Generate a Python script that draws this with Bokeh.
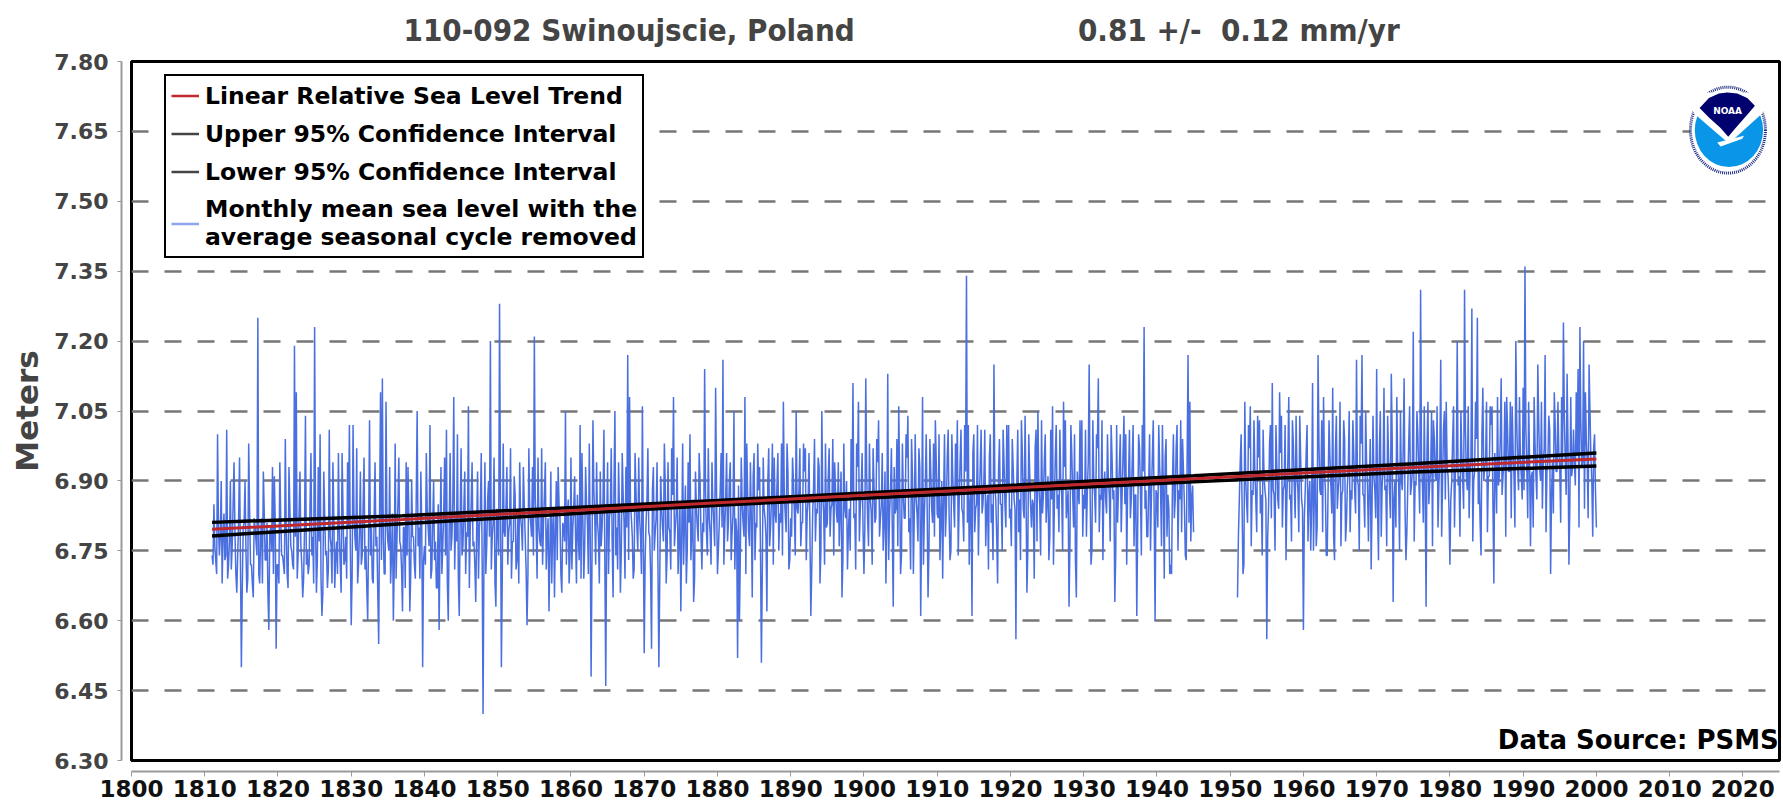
from bokeh.plotting import figure
from bokeh.models import (LinearAxis, FixedTicker, NumeralTickFormatter, Label, Legend, LegendItem,
                          Range1d, Grid, Title)
from bokeh.embed import file_html
from bokeh.resources import INLINE

# values in centimetres; lvl_* are read at whole quarters of a year
lvl_1811_1819 = [674,685,673,700, 674,690,678,673, 701,672,690,676, 694,670,674,695, 650,680,690,666,
                 698,672,668,682, 677,725,668,682, 692,673,681,658, 680,693,691,654]
lvl_1820s = [672,694,674,672, 699,670,693,676, 672,719,709,674, 692,672,669,704, 675,672,696,678,
             723,666,693,700, 661,692,674,667, 701,676,694,667, 677,696,672,696, 672,678,694,702]
lvl_1830s = [659,702,678,697, 672,692,674,695, 676,660,703,680, 668,694,678,655, 709,712,670,707,
             677,693,674,660, 698,678,695,676, 662,680,694,693, 662,690,678,669, 705,680,692,650]
lvl_1840s = [676,696,680,702, 671,690,677,667, 658,693,676,695, 701,660,696,678, 708,682,700,661,
             697,676,692,679, 706,680,694,677, 664,692,680,696, 640,694,676,690, 720,678,695,663]
lvl_1850s = [680,728,650,698, 678,693,679,697, 677,691,671,682, 694,680,693,678, 659,697,681,693,
             721,680,695,677, 697,681,694,678, 662,692,680,665, 690,693,682,666, 680,705,682,668]
lvl_1860s = [695,680,691,668, 678,702,696,669, 693,681,698,648, 703,682,694,678, 692,680,701,646,
             694,682,697,665, 705,680,694,666, 696,681,693,717, 708,682,669,696, 680,695,678,706]
lvl_1870s = [653,681,697,678, 654,693,679,694, 650,691,680,698, 668,694,679,697, 708,680,695,677,
             662,698,681,668, 694,700,679,664, 692,680,696,679, 681,714,679,697, 679,694,681,710]
lvl_1880s = [670,681,696,716, 680,696,681,694, 679,705,682,652, 660,695,681,708, 698,679,694,665,
             696,681,698,693, 651,695,682,662, 697,680,698,695, 681,696,683,698, 707,683,698,671]
lvl_1890s = [682,695,683,705, 683,697,681,698, 697,683,696,661, 683,699,684,695, 668,705,683,698,
             681,697,684,699, 694,683,694,684, 665,698,682,671, 684,699,711,683, 698,707,684,696]
lvl_1900s = [670,712,682,698, 683,697,681,699, 703,682,696,681, 668,713,683,697, 663,683,699,706,
             670,698,682,700, 704,682,699,670, 700,683,697,661, 708,683,700,665, 699,684,698,703]
lvl_1910s = [683,700,682,669, 700,684,701,673, 700,685,698,703, 685,701,683,702, 734,702,685,661,
             700,684,702,686, 701,685,701,684, 671,700,685,715, 686,668,699,685, 701,685,702,702]
lvl_1920s = [684,699,686,656, 701,686,703,684, 704,666,700,685, 686,669,701,705, 685,703,687,700,
             686,673,701,706, 685,702,687,701, 687,707,703,685, 663,702,687,700, 665,687,703,703]
lvl_1930s = [687,701,688,715, 672,703,687,700, 712,687,703,688, 686,700,687,702, 686,664,702,688,
             700,687,704,700, 688,701,686,702, 687,661,700,688, 702,723,688,678, 700,687,703,660]
lvl_1940_1945 = [687,702,688,702, 669,699,687,670, 670,700,686,702, 688,703,699,685, 673,717,707,686, 679]
lvl_1951_1959 = [665,686,700,670, 707,685,702,706, 688,703,686,704, 703,687,701,688, 656,685,702,711,
                 687,702,686,709, 704,688,702,687, 708,687,703,689, 704,688,704,686]
lvl_1960s = [658,688,702,687, 675,711,688,676, 717,688,703,708, 688,674,703,689, 710,673,704,688,
             707,687,703,677, 689,705,688,703, 688,716,689,704, 717,687,705,689, 689,671,704,688]
lvl_1970s = [714,673,705,689, 710,689,704,688, 713,664,690,708, 690,705,688,712, 673,689,706,689,
             722,690,705,691, 731,689,706,663, 707,690,705,703, 691,706,689,716, 690,705,707,691]
lvl_1980s = [672,690,706,692, 720,691,705,690, 731,691,706,692, 727,690,707,725, 692,674,710,693,
             707,691,706,706, 668,692,708,691, 712,691,707,708, 692,707,706,691, 720,693,708,691]
lvl_1990_2000 = [710,736,693,707, 676,692,708,691, 715,693,707,694, 717,692,704,670, 694,709,692,707,
                 693,708,724,694, 713,672,708,693, 694,709,714,723, 693,720,709,694, 715,695,678,700, 680]

# readings half-way between those quarters
mid_1811_1819 = [672,676,670,680, 678,668,683,674, 669,677,671,685, 679,666,682,673, 667,681,675,669,
                 684,672,665,680, 674,670,678,668, 683,673,666,679, 675,670,681,672]
mid_1820s = [668,682,674,670, 679,667,684,675, 671,678,669,683, 676,665,680,672, 670,685,674,668,
             681,673,677,669, 666,683,675,671, 678,668,682,674, 670,679,666,684, 673,669,680,676]
mid_1830s = [670,683,675,668, 679,672,685,671, 667,680,674,669, 682,676,666,684, 673,678,670,681,
             675,668,683,672, 669,685,677,671, 680,667,674,682, 670,678,672,686, 676,669,681,673]
mid_1840s = [672,684,676,669, 681,673,667,685, 678,670,683,674, 668,680,675,686, 671,677,669,682,
             674,684,670,678, 667,685,676,672, 680,669,683,673, 675,670,686,678, 671,681,668,684]
mid_1850s = [674,686,670,679, 684,672,681,669, 677,687,673,668, 682,675,685,671, 670,683,678,674,
             686,669,680,676, 672,687,671,682, 675,668,684,679, 673,685,670,681, 677,672,686,674]
mid_1860s = [671,684,678,687, 673,669,682,676, 685,670,679,674, 688,672,681,668, 676,686,673,680,
             670,684,677,689, 674,671,683,675, 687,669,680,673, 685,678,671,688, 675,682,670,679]
mid_1870s = [673,686,679,670, 688,675,682,672, 669,684,677,689, 674,680,671,687, 676,683,670,685,
             678,672,689,675, 681,673,686,669, 684,677,690,671, 679,687,674,682, 672,685,676,688]
mid_1880s = [675,688,680,672, 686,677,690,673, 683,671,679,689, 674,685,678,670, 687,676,682,691,
             673,680,688,675, 671,684,678,690, 676,686,672,683, 689,675,681,674, 687,679,692,673]
mid_1890s = [678,690,674,684, 688,676,681,692, 673,686,679,671, 689,677,683,693, 675,687,672,680,
             691,678,685,674, 688,681,676,692, 673,684,690,679, 675,686,682,671, 693,677,688,680]
mid_1900s = [680,691,676,686, 672,689,682,694, 678,685,675,692, 681,673,688,679, 693,684,676,690,
             674,687,682,695, 679,671,691,683, 686,677,693,680, 672,689,685,675, 692,681,678,694]
mid_1910s = [682,673,690,686, 678,695,683,675, 691,680,687,674, 694,684,677,692, 681,672,688,696,
             679,685,674,693, 683,690,676,687, 695,681,673,689, 678,692,685,675, 694,680,688,682]
mid_1920s = [676,693,684,690, 679,673,696,682, 688,675,692,680, 685,697,677,689, 674,683,694,681,
             691,678,686,672, 695,684,679,690, 675,693,682,688, 677,696,680,673, 692,685,689,678]
mid_1930s = [684,678,694,688, 675,691,681,697, 679,686,673,692, 683,690,677,695, 688,674,681,693,
             679,696,685,672, 690,682,694,676, 687,680,697,674, 692,684,678,689, 675,695,683,688]
mid_1940_1944 = [680,693,676,688, 695,678,684,672, 690,682,697,675, 686,679,692,674, 695,681,677,689]
mid_1951_1959 = [678,694,685,672, 690,681,697,676, 687,692,679,695, 683,674,691,686, 678,698,682,688,
                 675,693,684,696, 680,689,673,694, 686,677,698,682, 691,679,695,684]
mid_1960s = [682,696,677,690, 685,675,693,680, 698,687,679,692, 674,689,695,683, 678,697,684,691,
             676,688,699,681, 693,679,686,696, 683,690,675,698, 687,680,694,677, 699,685,691,682]
mid_1970s = [684,697,678,692, 688,676,695,682, 699,686,680,693, 675,690,697,684, 679,698,687,692,
             677,689,700,683, 694,681,688,697, 685,692,676,699, 690,680,695,678, 701,686,693,684]
mid_1980s = [686,699,680,693, 689,678,696,684, 701,688,682,695, 677,692,699,685, 681,700,690,694,
             679,691,702,685, 696,683,689,699, 687,694,678,701, 692,682,697,680, 703,688,695,686]
mid_1990s = [688,701,682,695, 691,680,698,686, 703,690,684,697, 679,694,701,687, 683,702,692,696,
             681,693,704,687, 698,685,691,701, 689,696,680,703, 694,684,699,682, 705,690,697,688]

start_a, start_b = 1811.0, 1951.0

trend_years = [1811, 1837, 1880, 1900, 1945, 1975, 2000]
trend_mid = [6.796, 6.817, 6.853, 6.869, 6.9045, 6.929, 6.947]
trend_upper = [6.811, 6.825, 6.858, 6.874, 6.911, 6.937, 6.960]
trend_lower = [6.782, 6.808, 6.848, 6.863, 6.898, 6.919, 6.932]

y_ticks = [6.30, 6.45, 6.60, 6.75, 6.90, 7.05, 7.20, 7.35, 7.50, 7.65, 7.80]
x_ticks = list(range(1800, 2030, 10))

title_left = "110-092 Swinoujscie, Poland"
title_right = "0.81 +/-\u00a0\u00a00.12 mm/yr"

BLUE = "#4a6fe0"
GREY = "#444444"


def interleave(quarters, halves):
    out = []
    for i, q in enumerate(quarters):
        out.append(q / 100)
        if i < len(halves):
            out.append(halves[i] / 100)
    return out


seg_a = interleave(lvl_1811_1819 + lvl_1820s + lvl_1830s + lvl_1840s + lvl_1850s + lvl_1860s + lvl_1870s
                   + lvl_1880s + lvl_1890s + lvl_1900s + lvl_1910s + lvl_1920s + lvl_1930s + lvl_1940_1945,
                   mid_1811_1819 + mid_1820s + mid_1830s + mid_1840s + mid_1850s + mid_1860s + mid_1870s
                   + mid_1880s + mid_1890s + mid_1900s + mid_1910s + mid_1920s + mid_1930s + mid_1940_1944)
seg_b = interleave(lvl_1951_1959 + lvl_1960s + lvl_1970s + lvl_1980s + lvl_1990_2000,
                   mid_1951_1959 + mid_1960s + mid_1970s + mid_1980s + mid_1990s)

p = figure(width=1783, height=804, output_backend="svg", toolbar_location=None,
           x_range=Range1d(1800, 2025), y_range=Range1d(6.30, 7.80),
           x_axis_location=None, y_axis_location=None,
           min_border_left=131, min_border_right=4, min_border_top=61, min_border_bottom=44,
           background_fill_color="white", border_fill_color="white",
           outline_line_color="black", outline_line_width=3)
p.grid.visible = False

p.add_layout(Title(text=title_left + "\u00a0" * 23 + title_right, align="left", offset=272,
                   vertical_align="top", text_font="DejaVu Sans Condensed", text_font_style="bold",
                   text_font_size="31px", text_color=GREY, standoff=23), "above")

# thin unseen axes hold the real axes away from the frame
sp_y = LinearAxis(ticker=FixedTicker(ticks=[7.05]), axis_line_color=None, major_tick_line_color=None,
                  minor_tick_line_color=None, major_tick_in=0, major_tick_out=7,
                  major_label_overrides={7.05: " "}, major_label_text_font_size="1px", major_label_standoff=0)
sp_x = LinearAxis(ticker=FixedTicker(ticks=[1900]), axis_line_color=None, major_tick_line_color=None,
                  minor_tick_line_color=None, major_tick_in=0, major_tick_out=7,
                  major_label_overrides={1900: " "}, major_label_text_font_size="1px", major_label_standoff=0)
p.add_layout(sp_y, "left")
p.add_layout(sp_x, "below")

yax = LinearAxis(ticker=FixedTicker(ticks=y_ticks), formatter=NumeralTickFormatter(format="0.00"),
                 axis_label="Meters", axis_label_text_font="DejaVu Sans", axis_label_text_font_style="bold",
                 axis_label_text_font_size="31px", axis_label_text_color=GREY, axis_label_standoff=6,
                 major_label_text_font="DejaVu Sans", major_label_text_font_style="bold",
                 major_label_text_font_size="22px", major_label_text_color=GREY, major_label_standoff=9,
                 axis_line_color="#999999", axis_line_width=2, major_tick_line_color="#999999",
                 major_tick_in=0, major_tick_out=4, minor_tick_line_color=None)
xax = LinearAxis(ticker=FixedTicker(ticks=x_ticks), formatter=NumeralTickFormatter(format="0"),
                 major_label_text_font="DejaVu Sans", major_label_text_font_style="bold",
                 major_label_text_font_size="23px", major_label_text_color="#111111", major_label_standoff=3,
                 axis_line_color="#999999", axis_line_width=2, major_tick_line_color="#999999",
                 major_tick_in=0, major_tick_out=5, minor_tick_line_color=None)
p.add_layout(yax, "left")
p.add_layout(xax, "below")

p.add_layout(Grid(dimension=1, ticker=FixedTicker(ticks=y_ticks), grid_line_color="#777777",
                  grid_line_width=2.5, grid_line_dash="17 16"))

t_a = [start_a + i * 0.125 for i in range(len(seg_a))]
t_b = [start_b + i * 0.125 for i in range(len(seg_b))]
p.line(t_a, seg_a, line_color=BLUE, line_width=1.5)
p.line(t_b, seg_b, line_color=BLUE, line_width=1.5)
p.line(trend_years, trend_upper, line_color="black", line_width=3.5)
p.line(trend_years, trend_lower, line_color="black", line_width=3.5)
p.line(trend_years, trend_mid, line_color="#c0282c", line_width=3)

# legend samples sit outside the visible range
off_x, off_y = [1700, 1701], [5, 5]
s1 = p.line(off_x, off_y, line_color="#c0282c", line_width=2.5)
s2 = p.line(off_x, off_y, line_color="#444444", line_width=2.5)
s3 = p.line(off_x, off_y, line_color="#444444", line_width=2.5)
s4 = p.line(off_x, off_y, line_color="#8fa6ee", line_width=2.5)
leg = Legend(items=[LegendItem(label="Linear Relative Sea Level Trend", renderers=[s1]),
                    LegendItem(label="Upper 95% Confidence Interval", renderers=[s2]),
                    LegendItem(label="Lower 95% Confidence Interval", renderers=[s3]),
                    LegendItem(label="Monthly mean sea level with the\naverage seasonal cycle removed", renderers=[s4])],
             location=(33, 502), orientation="vertical", border_line_color="black", border_line_width=2.5,
             border_line_alpha=1, background_fill_color="white", background_fill_alpha=1,
             padding=5, margin=0, spacing=9,
             glyph_width=28, glyph_height=29, label_standoff=6, label_text_font="DejaVu Sans",
             label_text_font_style="bold", label_text_font_size="23.5px", label_text_color="black",
             label_text_line_height=1.23)
p.add_layout(leg)

p.add_layout(Label(x=2024.9, y=6.344, text="Data Source: PSMS", text_font="DejaVu Sans", text_font_style="bold",
                   text_font_size="26px", text_color="black", text_align="right", text_baseline="alphabetic"))

# NOAA emblem, outlined in crop pixels of the emblem region
def lx(z): return [1800 + (1400 + v / 3 - 131) / 7.324 for v in z]
def ly(z): return [7.80 - (50 + v / 3 - 60.7) / 466.2 for v in z]
def mx(v): return lx([v])[0]
def my(v): return ly([v])[0]
p.ellipse(mx(982), my(238), width=225 / 3 / 7.324, height=258 / 3 / 466.2, fill_color="white",
          line_color="#1a2a80", line_width=3, line_dash="1 1")
p.ellipse(mx(985), my(238), width=205 / 3 / 7.324, height=222 / 3 / 466.2, fill_color="#0a96e8", line_color=None)
wx = [875, 1090, 1090, 1083, 985, 882, 876]
wy = [125, 125, 180, 190, 278, 190, 180]
p.patch(lx(wx), ly(wy), fill_color="white", line_color=None)
nx = [897, 925, 955, 980, 1010, 1040, 1063, 1040, 1005, 983, 960, 925]
ny = [172, 142, 128, 125, 128, 142, 165, 192, 232, 258, 232, 200]
p.patch(lx(nx), ly(ny), fill_color="#00006e", line_color=None)
tx = [950, 1030, 1025, 960]
ty = [275, 255, 264, 287]
p.patch(lx(tx), ly(ty), fill_color="white", line_color=None)
p.add_layout(Label(x=mx(981), y=my(182), text="NOAA", text_font="DejaVu Sans", text_font_style="bold",
                   text_font_size="9px", text_color="white", text_align="center", text_baseline="middle"))

open("out.html", "w").write(file_html(p, INLINE))
